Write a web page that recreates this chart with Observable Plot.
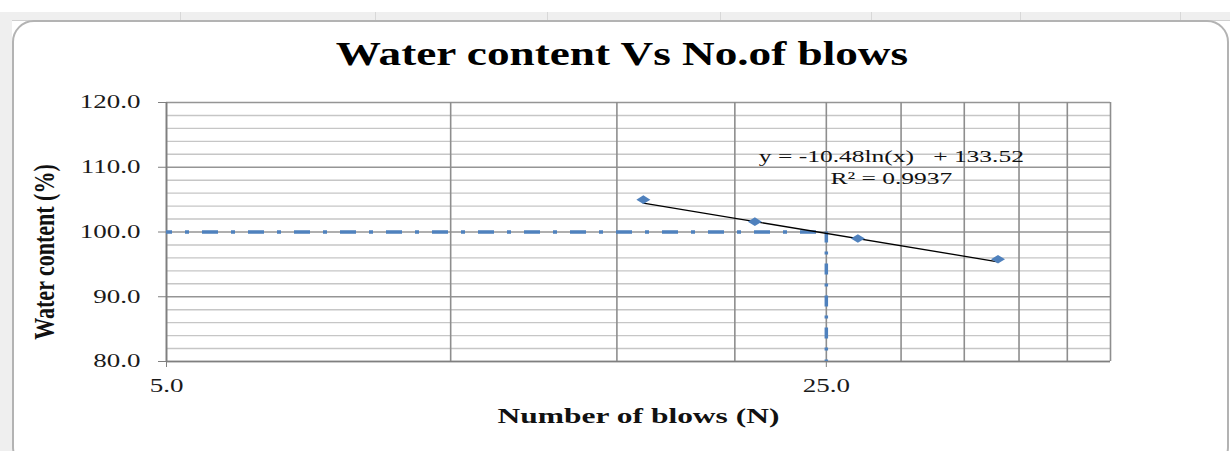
<!DOCTYPE html>
<html>
<head>
<meta charset="utf-8">
<script src="https://cdn.jsdelivr.net/npm/d3@7"></script>
<script src="https://cdn.jsdelivr.net/npm/@observablehq/plot@0.6"></script>
<style>
  html, body { margin: 0; padding: 0; background: #fff; overflow: hidden; }
  #page { position: relative; width: 1230px; height: 451px; overflow: hidden; background: #fff; }
  #strip { position: absolute; left: 0; top: 12px; width: 1230px; height: 8px; background: #efefef; border-bottom: 1px solid #cfcfcf; }
  .sep { position: absolute; top: 12px; width: 1px; height: 8px; background: #d8d8d8; }
  #sidebar { position: absolute; left: 0; top: 12px; width: 12px; height: 440px; background: #efefef; }
  #box { position: absolute; left: 12px; top: 20px; width: 1213px; height: 445px; border: 2px solid #b3b3b3; border-radius: 22px; background: #fff; }
  #title { position: absolute; left: 0; top: 38px; width: 1244px; text-align: center; font-family: "Liberation Serif", serif; font-weight: bold; font-size: 33px; line-height: 33px; color: #000; transform: scaleX(1.37); transform-origin: 622px 0; white-space: nowrap; }
  #chart { position: absolute; left: 0; top: 0; }
  #chart svg text { white-space: pre; }
</style>
</head>
<body>
<div id="page">
  <div id="strip"></div>
  <div class="sep" style="left:180px"></div>
  <div class="sep" style="left:375px"></div>
  <div class="sep" style="left:547px"></div>
  <div class="sep" style="left:720px"></div>
  <div class="sep" style="left:871px"></div>
  <div class="sep" style="left:1020px"></div>
  <div class="sep" style="left:1180px"></div>
  <div id="sidebar"></div>
  <div id="box"></div>
  <div id="title">Water content Vs No.of blows</div>
  <div id="chart"></div>
</div>
<script>
// ---- data ----
const blows = [16, 21, 27, 38];
const waterContent = [105.0, 101.6, 99.0, 95.8];
const xGridTicks = [5, 10, 15, 20, 25, 30, 35, 40, 45, 50];
const xTickLabels = [5, 25];
const yMajorTicks = [80, 90, 100, 110, 120];
const yMinorTicks = [82, 84, 86, 88, 92, 94, 96, 98, 102, 104, 106, 108, 112, 114, 116, 118];
const trendSlope = -10.48;
const trendIntercept = 133.52;
const trendR2 = 0.9937;
const liquidLimitBlows = 25;
const liquidLimitWater = 100;

const points = blows.map((b, i) => ({x: b, y: waterContent[i]}));
const trendEnds = [d3.min(blows), d3.max(blows)].map(x => ({x, y: trendSlope * Math.log(x) + trendIntercept}));
const eqLine1 = `y = ${trendSlope}ln(x)   + ${trendIntercept}`;
const eqLine2 = `R² = ${trendR2}`;

const blue = "#4F81BD";
const diamond = {
  draw(ctx) {
    ctx.moveTo(-7, 0); ctx.lineTo(0, -4.3); ctx.lineTo(7, 0); ctx.lineTo(0, 4.3); ctx.closePath();
  }
};

const chart = Plot.plot({
  width: 1230,
  height: 451,
  marginLeft: 166,
  marginRight: 120,
  marginTop: 102,
  marginBottom: 90,
  style: {background: "transparent", fontFamily: "Liberation Serif, serif", color: "#111"},
  x: {type: "log", domain: [5, 50]},
  y: {domain: [80, 120]},
  marks: [
    Plot.ruleY(yMinorTicks, {stroke: "#c6c6c6", strokeWidth: 1.4}),
    Plot.ruleY(yMajorTicks, {stroke: "#959595", strokeWidth: 1.5}),
    Plot.ruleX(xGridTicks, {stroke: "#8e8e8e", strokeWidth: 1.6}),
    Plot.ruleX([5], {stroke: "#7f7f7f", strokeWidth: 1.6}),
    Plot.ruleY([80], {stroke: "#7f7f7f", strokeWidth: 1.6}),
    Plot.axisY(yMajorTicks, {tickFormat: d => d.toFixed(1), tickSize: 8, tickPadding: 18, fontSize: 18, stroke: "#7f7f7f", fill: "#1a1a1a", label: null}),
    Plot.axisX(xTickLabels, {tickFormat: d => d.toFixed(1), tickSize: 6, tickPadding: 12, fontSize: 18, stroke: "#7f7f7f", fill: "#1a1a1a", label: null}),
    Plot.ruleY([liquidLimitWater], {x1: 5, x2: liquidLimitBlows, stroke: blue, strokeWidth: 3.5, strokeDasharray: "16,13,4,13", strokeDashoffset: 10}),
    Plot.ruleX([liquidLimitBlows], {y1: liquidLimitWater, y2: 80, stroke: blue, strokeWidth: 3.5, strokeDasharray: "11,9,3,9"}),
    Plot.line(trendEnds, {x: "x", y: "y", stroke: "#000", strokeWidth: 1.3}),
    Plot.dot(points, {x: "x", y: "y", symbol: diamond, fill: blue, stroke: "none"}),
    Plot.text([eqLine1], {x: () => 29.3, y: () => 111.7, fontSize: 17, fill: "#111"}),
    Plot.text([eqLine2], {x: () => 29.3, y: () => 108.3, fontSize: 17, fill: "#111"}),
    Plot.text(["Number of blows (N)"], {frameAnchor: "bottom", textAnchor: "middle", lineAnchor: "middle", dy: 55, fontSize: 21, fontWeight: "bold", fill: "#111"}),
    Plot.text(["Water content (%)"], {frameAnchor: "left", textAnchor: "middle", lineAnchor: "middle", rotate: -90, dx: -120, dy: 20, fontSize: 22, fontWeight: "bold", fill: "#111"})
  ]
});

document.getElementById("chart").appendChild(chart);

// horizontal stretch of text, as in the reference
function stretchText(svg) {
  svg.querySelectorAll("text").forEach(t => {
    const sx = t.textContent.startsWith("Water content") ? 1.3 : 1.5;
    const tl = t.transform.baseVal;
    const m = tl.numberOfItems ? tl.consolidate().matrix : {a: 1, c: 0, e: 0};
    const x = t.x.baseVal.numberOfItems ? t.x.baseVal.getItem(0).value : 0;
    const y = t.y.baseVal.numberOfItems ? t.y.baseVal.getItem(0).value : 0;
    const X = m.a * x + m.c * y + m.e;
    const old = t.getAttribute("transform") || "";
    t.setAttribute("transform", `translate(${X},0) scale(${sx},1) translate(${-X},0) ${old}`);
  });
}
stretchText(chart);
</script>
</body>
</html>
